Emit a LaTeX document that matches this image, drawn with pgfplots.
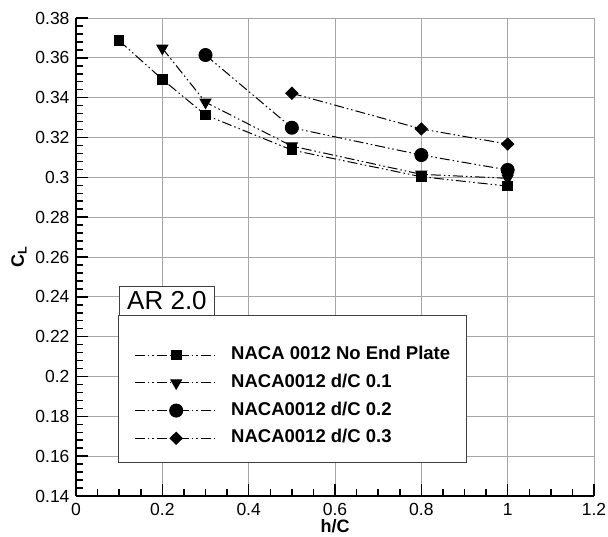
\documentclass[border=0pt]{standalone}
\usepackage{fontspec}
\setmainfont{Liberation Sans}
\usepackage{pgfplots}
\pgfplotsset{compat=1.18}

\tikzset{ddd/.style={dash pattern=on 10pt off 3pt on 1.5pt off 3pt on 1.5pt off 3pt}}

\begin{document}
\begin{tikzpicture}[x=1pt,y=1pt]
\useasboundingbox (0,0) rectangle (608,537);
\begin{axis}[
    at={(76pt,41pt)}, anchor=south west,
    width=518pt, height=478pt, scale only axis,
    xmin=0, xmax=1.2, ymin=0.14, ymax=0.38,
    xtick={0,0.2,0.4,0.6,0.8,1,1.2},
    ytick={0.14,0.16,0.18,0.2,0.22,0.24,0.26,0.28,0.3,0.32,0.34,0.36,0.38},
    minor x tick num=3, minor y tick num=4,
    axis lines*=left,
    axis line style={line width=2pt},
    tick style={line width=1.5pt, black},
    major tick length=12pt, minor tick length=7pt,
    tick align=inside,
    grid=major, grid style={gray!70, line width=0.8pt},
    tick label style={font=\fontsize{17.5}{17.5}\selectfont},
    xticklabel style={yshift=-4pt},
    yticklabel style={xshift=-3pt},
    /pgf/number format/assume math mode=true,
    xlabel={h/C}, ylabel={C\textsubscript{L}},
    label style={font=\bfseries\fontsize{18}{18}\selectfont, inner sep=1pt},
    xlabel style={at={(axis description cs:0.5,-0.064)}, anchor=center},
    ylabel style={at={(axis description cs:-0.11,0.5)}, anchor=center},
    legend style={
        at={(axis description cs:0.112,0.317)}, anchor=north west,
        draw=none, fill=none, inner sep=0pt,
        font=\bfseries\fontsize{18.5}{18.5}\selectfont,
        nodes={inner sep=2pt, text height=13pt, text depth=4pt},
        row sep=6.7pt, column sep=11pt,
    },
    legend cell align=left,
    legend image code/.code={
        \draw[mark repeat=2, mark phase=2, #1]
            plot coordinates {(0pt,0pt) (41.5pt,0pt) (83pt,0pt)};
    },
]
\draw[fill=white, draw=black!75, line width=1pt]
    (axis description cs:0.083,0.3766) rectangle (axis description cs:0.7548,0.0711);
\node[draw=black!75, line width=1pt, fill=white, anchor=south west,
      minimum width=95pt, minimum height=29pt, inner sep=0pt,
      font=\fontsize{26}{26}\selectfont]
    at (axis description cs:0.083,0.3766) {AR 2.0};

\addplot[black, line width=1pt, ddd, mark=square*, mark size=4.8pt, mark options={solid}]
    coordinates {(0.1,0.3686) (0.2,0.3492) (0.3,0.3313) (0.5,0.3137) (0.8,0.3003) (1.0,0.2956)};
\addlegendentry{NACA 0012 No End Plate}
\addplot[black, line width=1pt, ddd, mark=triangle*, mark size=6.2pt, mark options={solid, rotate=180}]
    coordinates {(0.2,0.3648) (0.3,0.3377) (0.5,0.3157) (0.8,0.3015) (1.0,0.2995)};
\addlegendentry{NACA0012 d/C 0.1}
\addplot[black, line width=1pt, ddd, mark=*, mark size=6.5pt, mark options={solid}]
    coordinates {(0.3,0.3614) (0.5,0.3249) (0.8,0.3112) (1.0,0.3037)};
\addlegendentry{NACA0012 d/C 0.2}
\addplot[black, line width=1pt, ddd, mark=diamond*, mark size=6pt, mark options={solid, xscale=1.35}]
    coordinates {(0.5,0.3422) (0.8,0.3243) (1.0,0.3167)};
\addlegendentry{NACA0012 d/C 0.3}
\end{axis}
\end{tikzpicture}
\end{document}
